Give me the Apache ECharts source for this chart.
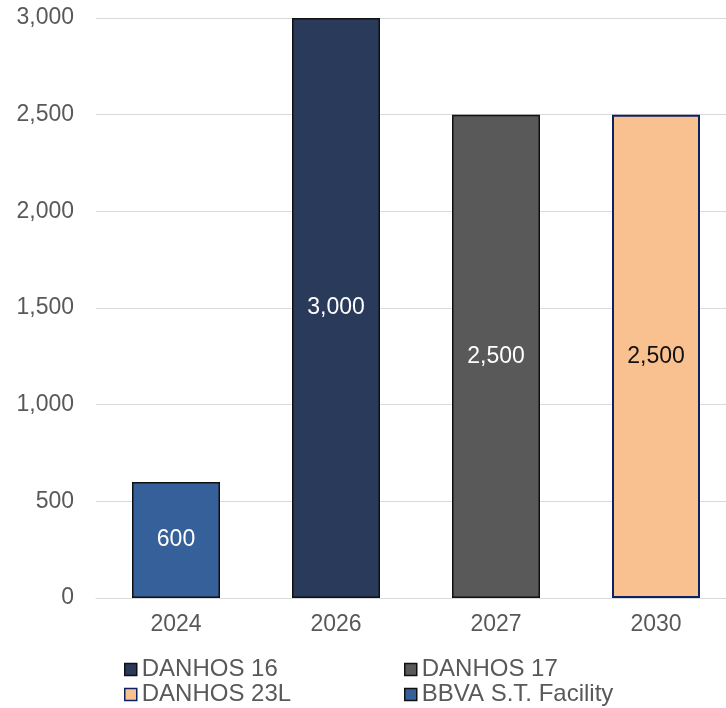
<!DOCTYPE html>
<html><head><meta charset="utf-8">
<script src="https://cdn.jsdelivr.net/npm/echarts@6/dist/echarts.min.js"></script>
<style>html,body{margin:0;padding:0;background:#fff;overflow:hidden;width:726px;height:708px}#c{width:736px;height:708px}</style>
</head><body><div id="c"></div>
<script>
const categories = ['2024', '2026', '2027', '2030'];
const seriesNames = ['DANHOS 16', 'DANHOS 17', 'DANHOS 23L', 'BBVA S.T. Facility'];
const danhos16 = [null, 3000, null, null];
const danhos17 = [null, null, 2500, null];
const danhos23L = [null, null, null, 2500];
const bbva = [600, null, null, null];
const yTicks = [0, 500, 1000, 1500, 2000, 2500, 3000];

const fmt = v => v.toLocaleString('en-US');
const font = 'Liberation Sans, Arial, sans-serif';
const FS = 23;
const styles = {
  'DANHOS 16': {color: '#293A5A', borderColor: '#111111', borderWidth: 1.5, label: '#ffffff'},
  'DANHOS 17': {color: '#595959', borderColor: '#111111', borderWidth: 1.5, label: '#ffffff'},
  'DANHOS 23L': {color: '#F9C18F', borderColor: '#0C2261', borderWidth: 2, label: '#111111'},
  'BBVA S.T. Facility': {color: '#36609A', borderColor: '#111111', borderWidth: 1.5, label: '#ffffff'}
};
const dataMap = {'DANHOS 16': danhos16, 'DANHOS 17': danhos17, 'DANHOS 23L': danhos23L, 'BBVA S.T. Facility': bbva};

const legendBase = {orient: 'vertical', top: 657, height: 60, padding: 0, itemWidth: 12, itemHeight: 12, itemGap: 0,
  icon: 'rect', itemStyle: {borderWidth: 1.5},
  textStyle: {fontSize: 24, lineHeight: 25, color: '#595959', fontFamily: font}};

const chart = echarts.init(document.getElementById('c'), null, {renderer: 'canvas'});
chart.setOption({
  animation: false,
  grid: {left: 96, right: 0, top: 18, bottom: 110, containLabel: false},
  legend: [
    Object.assign({}, legendBase, {data: ['DANHOS 16', 'DANHOS 23L'], left: 124}),
    Object.assign({}, legendBase, {data: ['DANHOS 17', 'BBVA S.T. Facility'], left: 404})
  ],
  xAxis: {
    type: 'category', data: categories,
    axisLine: {lineStyle: {color: '#D9D9D9', width: 1}},
    axisTick: {show: false},
    axisLabel: {fontSize: FS, color: '#595959', fontFamily: font, margin: 15}
  },
  yAxis: {
    type: 'value', min: 0, max: 3000, interval: 500,
    axisLine: {show: false}, axisTick: {show: false},
    splitLine: {lineStyle: {color: '#D9D9D9', width: 1}},
    axisLabel: {fontSize: FS, color: '#595959', fontFamily: font, margin: 22, formatter: v => fmt(v)}
  },
  series: seriesNames.map(n => ({
    name: n, type: 'bar', stack: 'total', barWidth: 88,
    data: dataMap[n],
    itemStyle: {color: styles[n].color, borderColor: styles[n].borderColor, borderWidth: styles[n].borderWidth},
    label: {show: true, position: 'inside', fontSize: FS, fontFamily: font, color: styles[n].label, formatter: p => fmt(p.value)}
  }))
});
</script></body></html>
